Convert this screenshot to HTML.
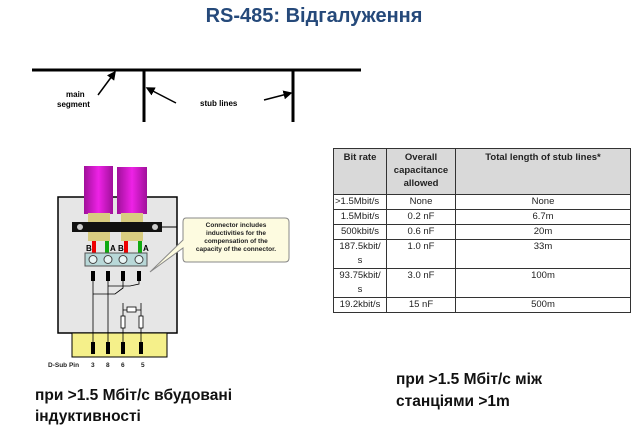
<!DOCTYPE html>
<html><head><meta charset="utf-8"><style>
body{margin:0;width:640px;height:434px;background:#fff;overflow:hidden;position:relative;font-family:"Liberation Sans","DejaVu Sans",sans-serif}
.t{position:absolute;white-space:nowrap}
table{position:absolute;left:333px;top:148px;border-collapse:collapse;font-family:"Liberation Sans","DejaVu Sans",sans-serif;font-size:9.5px;color:#222}
td{border:1px solid #333;text-align:center;vertical-align:top;padding:0 1px;line-height:14px}
th{border:1px solid #333;background:#d9d9d9;font-weight:bold;vertical-align:top;line-height:13px;padding:2px 1px}
</style></head><body>
<div class="t" style="left:0;width:628px;text-align:center;top:5px;font-size:20px;font-weight:bold;color:#25497a">RS-485: Відгалуження</div>

<svg width="640" height="434" style="position:absolute;left:0;top:0">
<defs><marker id="ar" markerWidth="6" markerHeight="6" refX="5" refY="3" orient="auto"><path d="M0,0L6,3L0,6z" fill="#000"/></marker></defs>
<g stroke="#000">
<line x1="32" y1="70" x2="361" y2="70" stroke-width="3"/>
<line x1="144" y1="70" x2="144" y2="122" stroke-width="3"/>
<line x1="293" y1="70" x2="293" y2="122" stroke-width="3"/>
<line x1="98" y1="95" x2="115" y2="72" stroke-width="1.5" marker-end="url(#ar)"/>
<line x1="176" y1="103" x2="147" y2="88" stroke-width="1.5" marker-end="url(#ar)"/>
<line x1="264" y1="100" x2="291" y2="93" stroke-width="1.5" marker-end="url(#ar)"/>
</g>
<text x="66" y="97" font-size="8" font-weight="bold" font-family="Liberation Sans">main</text>
<text x="57" y="107" font-size="8" font-weight="bold" font-family="Liberation Sans">segment</text>
<text x="200" y="106" font-size="8" font-weight="bold" font-family="Liberation Sans">stub lines</text>

<rect x="58" y="197" width="119" height="136" fill="#e6e6e6" stroke="#000" stroke-width="1.5"/>
<rect x="72" y="333" width="95" height="24" fill="#f5f08a" stroke="#000"/>
<defs><linearGradient id="mg" x1="0" x2="1"><stop offset="0" stop-color="#a0109a"/><stop offset=".5" stop-color="#ee22e6"/><stop offset="1" stop-color="#a0109a"/></linearGradient></defs>
<rect x="84" y="166" width="29" height="48" fill="url(#mg)"/>
<rect x="117" y="167" width="30" height="47" fill="url(#mg)"/>
<rect x="88" y="213" width="22" height="28" fill="#d8cc80"/>
<rect x="121" y="213" width="22" height="28" fill="#d8cc80"/>
<rect x="72" y="222" width="90" height="10" fill="#111"/>
<circle cx="80" cy="227" r="3" fill="#ccc"/><circle cx="155" cy="227" r="3" fill="#ccc"/>
<line x1="162" y1="227" x2="177" y2="227" stroke="#000"/>
<rect x="92" y="241" width="4" height="12" fill="#e00"/><rect x="105" y="241" width="4" height="12" fill="#1a1"/>
<rect x="124" y="241" width="4" height="12" fill="#e00"/><rect x="138" y="241" width="4" height="12" fill="#1a1"/>
<g font-size="8" font-weight="bold" font-family="Liberation Sans"><text x="86" y="251">B</text><text x="110" y="251">A</text><text x="118" y="251">B</text><text x="143" y="251">A</text></g>
<rect x="85" y="253" width="62" height="13" fill="#b8d8d8" stroke="#555"/>
<g fill="#e8f4f4" stroke="#444"><circle cx="93" cy="259.5" r="4"/><circle cx="108" cy="259.5" r="4"/><circle cx="123" cy="259.5" r="4"/><circle cx="139" cy="259.5" r="4"/></g>
<g fill="#000"><rect x="91" y="271" width="4" height="10"/><rect x="106" y="271" width="4" height="10"/><rect x="121" y="271" width="4" height="10"/><rect x="137" y="271" width="4" height="10"/>
<rect x="91" y="342" width="4" height="12"/><rect x="106" y="342" width="4" height="12"/><rect x="121" y="342" width="4" height="12"/><rect x="139" y="342" width="4" height="12"/></g>
<g stroke="#000" fill="none" stroke-width="0.8">
<line x1="93" y1="281" x2="93" y2="342"/><line x1="108" y1="281" x2="108" y2="342"/>
<polyline points="123,281 123,288 115,294 93,294"/>
<polyline points="139,281 139,284 130,286 108,286"/>
<line x1="123" y1="303" x2="123" y2="342"/><line x1="141" y1="303" x2="141" y2="342"/>
<line x1="123" y1="310" x2="141" y2="310"/>
<rect x="127" y="307" width="9" height="5" fill="#fff"/>
<rect x="121" y="316" width="4" height="12" fill="#fff"/><rect x="139" y="316" width="4" height="12" fill="#fff"/>
</g>
<path d="M186,218 H285 Q289,218 289,222 V258 Q289,262 285,262 H186 Q183,262 183,258 V248 L150,272 L183,240 V222 Q183,218 186,218Z" fill="#fdfbe0" stroke="#888"/>
<g font-size="6.5" font-weight="bold" font-family="Liberation Sans" text-anchor="middle" fill="#222">
<text x="236" y="227">Connector includes</text><text x="236" y="235">inductivities for the</text><text x="236" y="243">compensation of the</text><text x="236" y="251">capacity of the connector.</text></g>
<g font-size="6.5" font-weight="bold" font-family="Liberation Sans" fill="#222"><text x="48" y="367">D-Sub Pin</text><text x="91" y="367">3</text><text x="106" y="367">8</text><text x="121" y="367">6</text><text x="141" y="367">5</text></g>
</svg>

<table>
<tr><th style="width:50px;height:41px">Bit rate</th><th style="width:66px">Overall capacitance allowed</th><th style="width:172px">Total length of stub lines*</th></tr>
<tr><td style="text-align:left">&gt;1.5Mbit/s</td><td>None</td><td>None</td></tr>
<tr><td>1.5Mbit/s</td><td>0.2 nF</td><td>6.7m</td></tr>
<tr><td>500kbit/s</td><td>0.6 nF</td><td>20m</td></tr>
<tr><td>187.5kbit/<br>s</td><td>1.0 nF</td><td>33m</td></tr>
<tr><td>93.75kbit/<br>s</td><td>3.0 nF</td><td>100m</td></tr>
<tr><td>19.2kbit/s</td><td>15 nF</td><td>500m</td></tr>
</table>

<div class="t" style="left:35px;top:385px;font-size:15.5px;font-weight:bold;line-height:21px;color:#111">при &gt;1.5 Мбіт/с вбудовані<br>індуктивності</div>
<div class="t" style="left:396px;top:369px;font-size:15.5px;font-weight:bold;line-height:22px;color:#111">при &gt;1.5 Мбіт/с між<br>станціями &gt;1m</div>
</body></html>
